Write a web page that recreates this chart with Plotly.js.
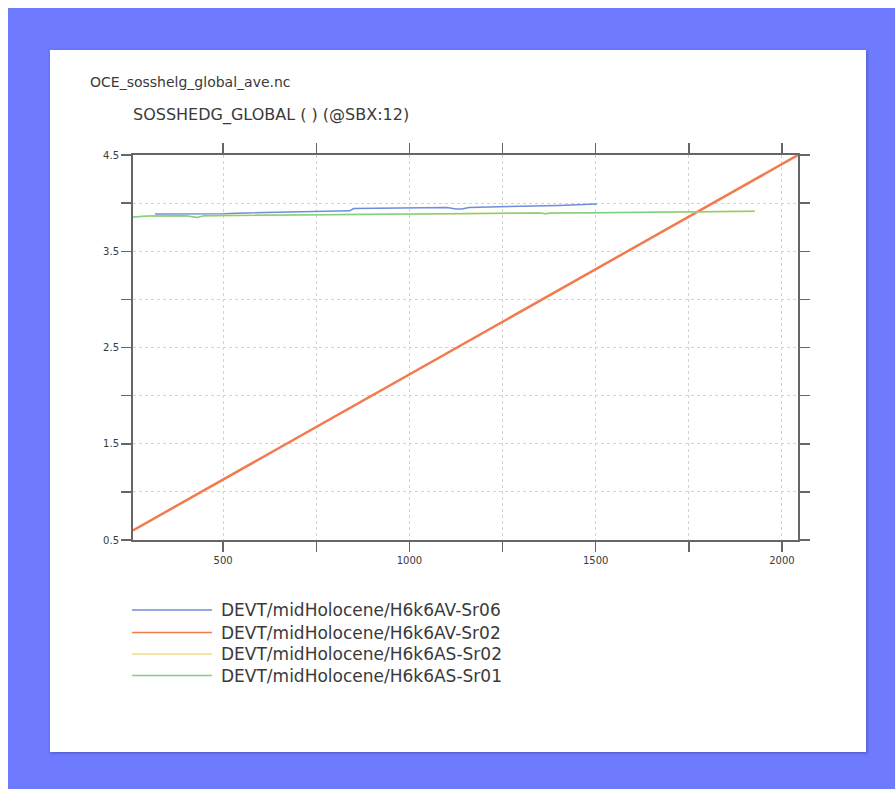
<!DOCTYPE html>
<html>
<head>
<meta charset="utf-8">
<script src="https://cdn.plot.ly/plotly-3.0.1.min.js"></script>
<style>
html,body{margin:0;padding:0;background:#ffffff;width:895px;height:789px;overflow:hidden;}
#frame{position:absolute;left:8px;top:8px;width:887px;height:781px;background:#6e7bff;}
#chart{position:absolute;left:50px;top:50px;width:816px;height:702px;background:#ffffff;box-shadow:1px 1px 3px rgba(60,60,140,0.6);}
</style>
</head>
<body>
<div id="frame"></div>
<div id="chart"></div>
<script>
// ---- data ----
const seriesNames = [
  "DEVT/midHolocene/H6k6AV-Sr06",
  "DEVT/midHolocene/H6k6AV-Sr02",
  "DEVT/midHolocene/H6k6AS-Sr02",
  "DEVT/midHolocene/H6k6AS-Sr01"
];
const blueYears  = [317, 420, 500, 537, 640, 700, 840, 850, 1000, 1100, 1125, 1140, 1160, 1300, 1400, 1503];
const blueValues = [3.886, 3.887, 3.889, 3.896, 3.902, 3.906, 3.92, 3.944, 3.948, 3.954, 3.94, 3.94, 3.955, 3.965, 3.975, 3.99];
const orangeYears  = [258, 1000, 1500, 2043];
const orangeValues = [0.6, 2.22, 3.31, 4.5];
const yellowYears  = [258, 300, 400, 430, 450, 600, 800, 1000, 1200, 1350, 1365, 1380, 1500, 1700, 1927];
const yellowValues = [3.855, 3.865, 3.87, 3.85, 3.87, 3.875, 3.885, 3.89, 3.895, 3.898, 3.89, 3.898, 3.90, 3.905, 3.915];
const greenYears  = [258, 300, 400, 430, 450, 600, 800, 1000, 1200, 1350, 1365, 1380, 1500, 1700, 1927];
const greenValues = [3.855, 3.865, 3.87, 3.85, 3.87, 3.875, 3.885, 3.89, 3.895, 3.898, 3.89, 3.898, 3.90, 3.905, 3.915];
const xTickVals = [500, 750, 1000, 1250, 1500, 1750, 2000];
const xTickText = ["500", "", "1000", "", "1500", "", "2000"];
const yTickVals = [0.5, 1.0, 1.5, 2.0, 2.5, 3.0, 3.5, 4.0, 4.5];
const yTickText = ["0.5", "", "1.5", "", "2.5", "", "3.5", "", "4.5"];
const fileLabel = "OCE_sosshelg_global_ave.nc";
const plotTitle = "SOSSHEDG_GLOBAL ( ) (@SBX:12)";

const colors = ["#6f8ddb", "#f27a4c", "#f3dc82", "#7fd27f"];
const widths = [1.5, 2.5, 1.5, 1.5];
const xs = [blueYears, orangeYears, yellowYears, greenYears];
const ys = [blueValues, orangeValues, yellowValues, greenValues];

const traces = seriesNames.map((n, i) => ({
  x: xs[i], y: ys[i], name: n, mode: "lines", type: "scatter",
  line: {color: colors[i], width: widths[i]}, showlegend: false
}));

// plot area pixel geometry (relative to chart div)
const W = 816, H = 702, L = 83, T = 105, R = 68, B = 212;
const pw = W - L - R, ph = H - T - B;
const px = x => (x - L) / pw;
const py = y => (H - B - y) / ph;

const shapes = [];
const annotations = [
  {xref: "paper", yref: "paper", x: px(38), y: py(32), xanchor: "left", yanchor: "middle",
   text: fileLabel, showarrow: false, font: {family: "DejaVu Sans", size: 14, color: "#3a3a3a"}},
  {xref: "paper", yref: "paper", x: px(81), y: py(65), xanchor: "left", yanchor: "middle",
   text: plotTitle, showarrow: false, font: {family: "DejaVu Sans", size: 16, color: "#3a3a3a"}}
];
const legY = [560, 582.5, 604, 625.5];
seriesNames.forEach((n, i) => {
  shapes.push({type: "line", xref: "paper", yref: "paper", x0: px(82), x1: px(162), y0: py(legY[i]), y1: py(legY[i]),
               line: {color: colors[i], width: 1.5}});
  annotations.push({xref: "paper", yref: "paper", x: px(169), y: py(legY[i]), xanchor: "left", yanchor: "middle",
                    text: n, showarrow: false, font: {family: "DejaVu Sans", size: 17, color: "#3a3a3a"}});
});

const axisCommon = {
  showline: true, linecolor: "#666", linewidth: 2, mirror: "ticks",
  ticks: "outside", ticklen: 10, tickwidth: 1.5, tickcolor: "#666",
  showgrid: true, gridcolor: "#d2d2d2", griddash: "dot", gridwidth: 1,
  zeroline: false, tickfont: {family: "DejaVu Sans", size: 10, color: "#3a3a3a"}
};

const layout = {
  width: W, height: H,
  margin: {l: L, r: R, t: T, b: B},
  paper_bgcolor: "rgba(0,0,0,0)", plot_bgcolor: "#ffffff",
  xaxis: Object.assign({}, axisCommon, {range: [258, 2043], tickmode: "array", tickvals: xTickVals, ticktext: xTickText}),
  yaxis: Object.assign({}, axisCommon, {range: [0.5, 4.5], tickmode: "array", tickvals: yTickVals, ticktext: yTickText}),
  shapes: shapes, annotations: annotations, showlegend: false
};

Plotly.newPlot("chart", traces, layout, {displayModeBar: false, staticPlot: true});
</script>
</body>
</html>
